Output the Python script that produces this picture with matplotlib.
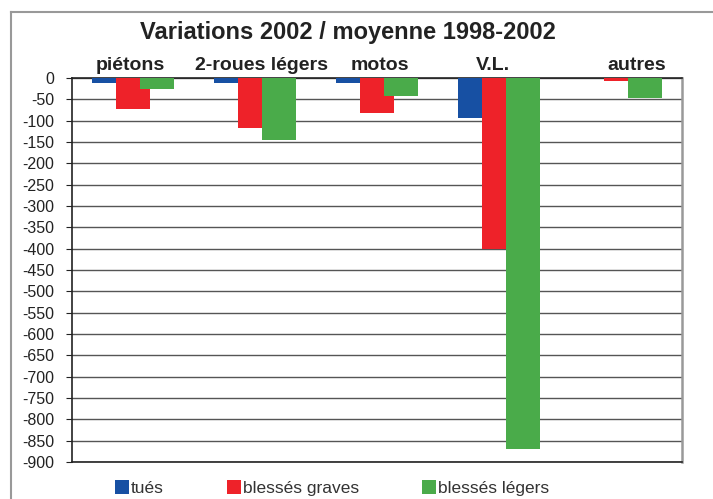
import numpy as np
import matplotlib
matplotlib.use("Agg")
import matplotlib.pyplot as plt
from matplotlib.patches import Patch
from matplotlib.lines import Line2D

plt.rcParams['font.family'] = ['Liberation Sans', 'DejaVu Sans']

categories = ["piétons", "2-roues légers", "motos", "V.L.", "autres"]
series = ["tués", "blessés graves", "blessés légers"]
tues = [-12, -12, -11, -93, 0]
graves = [-72, -118, -83, -400, -6]
legers = [-25, -145, -42, -870, -46]
yticks = list(range(0, -901, -50))

colors = ["#1750a3", "#ee2229", "#4aab4a"]
label_shift = [-0.02, 0.05, 0.02, -0.05, 0.13]

W, H = 713, 499
fig = plt.figure(figsize=(W / 100, H / 100), dpi=100)
ax = fig.add_axes([72 / W, 1 - 462 / H, (682 - 72) / W, (462 - 78) / H])

x = np.arange(len(categories))
width = 0.278
for vals, off, c in zip([tues, graves, legers], [-0.2, 0.0, 0.2], colors):
    ax.bar(x + off, vals, width, color=c, zorder=3)

ax.set_xlim(-0.5, len(categories) - 0.5)
ax.set_ylim(-900, 0)
ax.set_yticks(yticks)
ax.set_yticklabels([str(t) for t in yticks], fontsize=11.5, color="#222222")
ax.tick_params(axis='y', direction='out', length=4, pad=9, color="#222222")
ax.set_xticks([])
ax.yaxis.grid(True, color="#555555", linewidth=1.0, zorder=0)
ax.set_axisbelow(True)

for s in ["left", "bottom", "top"]:
    ax.spines[s].set_color("#222222")
    ax.spines[s].set_linewidth(1.2)
ax.spines["right"].set_color("#999999")
ax.spines["right"].set_linewidth(1.8)

# category labels above the plot
for i, name in enumerate(categories):
    ax.annotate(name, xy=(i + label_shift[i], 0), xycoords='data',
                xytext=(0, 6), textcoords='offset points',
                ha='center', va='baseline', fontsize=14,
                fontweight='bold', color="#222222", annotation_clip=False)

fig.text(348 / W, 1 - 33 / H, "Variations 2002 / moyenne 1998-2002",
         ha='center', va='center', fontsize=17, fontweight='bold',
         color="#222222")

# outer frame (left and top edges visible)
fig.add_artist(Line2D([11 / W, 11 / W], [0, 1 - 12 / H], transform=fig.transFigure,
                      color="#999999", linewidth=1.5))
fig.add_artist(Line2D([11 / W, 1], [1 - 12 / H, 1 - 12 / H], transform=fig.transFigure,
                      color="#999999", linewidth=1.5))

handles = [Patch(facecolor=c, edgecolor='none') for c in colors]
fs = 12.5
px = fs * 100 / 72
fig.legend(handles, series, loc='center left',
           bbox_to_anchor=(115 / W, 1 - 488 / H), ncol=3, frameon=False,
           fontsize=fs, handlelength=14 / px, handleheight=14 / px,
           handletextpad=2 / px, columnspacing=63 / px,
           borderpad=0, borderaxespad=0, labelcolor="#333333")

fig.savefig("out.png", dpi=100)
